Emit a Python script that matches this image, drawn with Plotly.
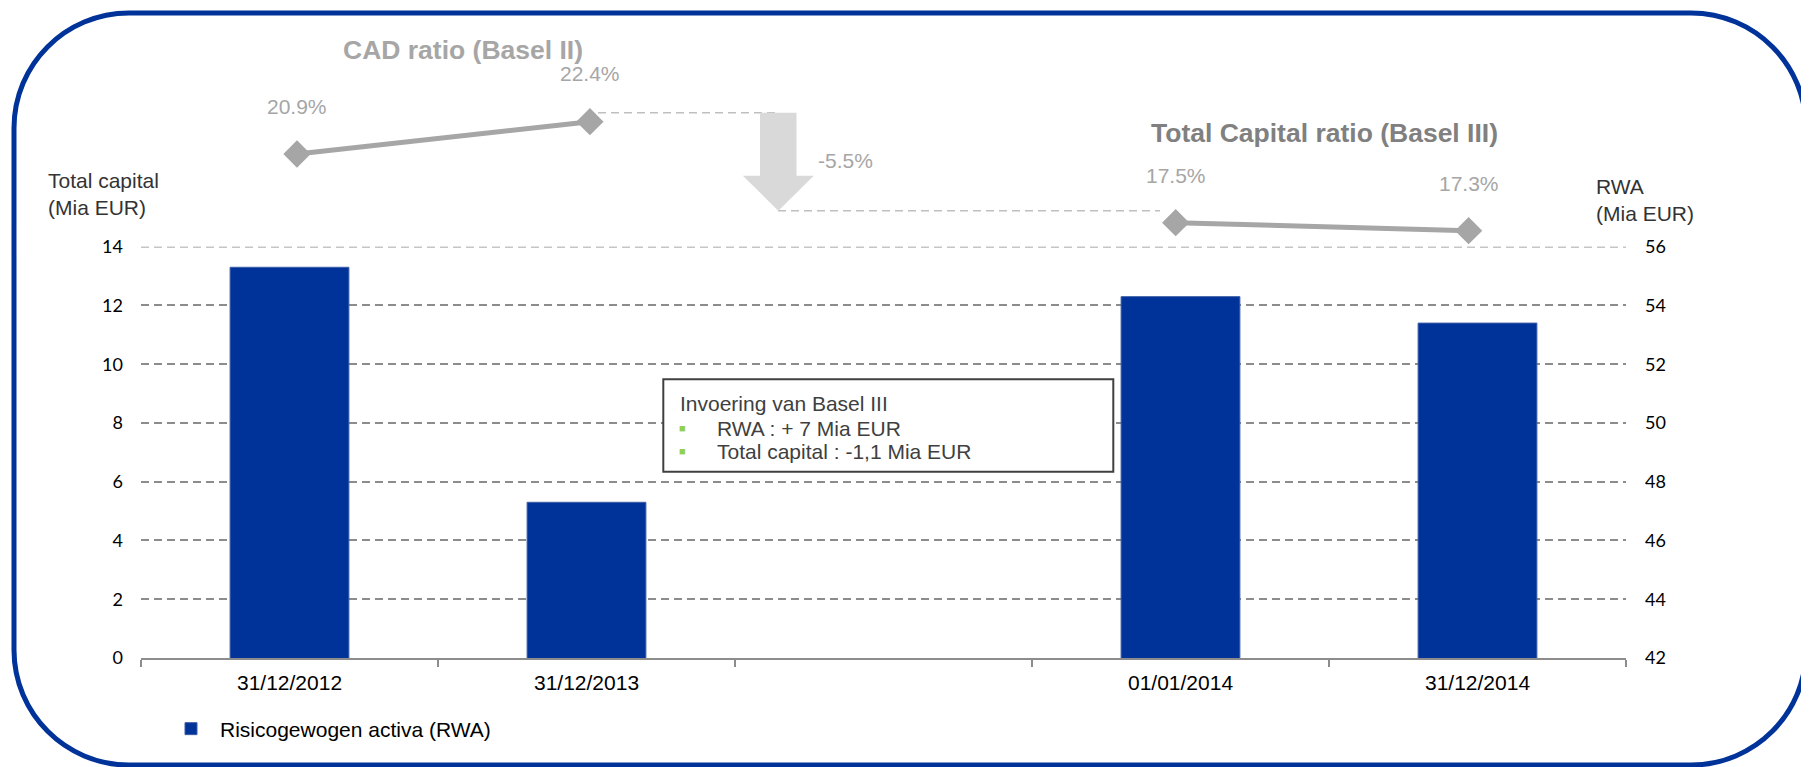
import plotly.graph_objects as go

# the page puts the figure 8px in from the top-left corner, so the figure margins are
# shifted by that; the helpers below work in screen pixels of the 1809x767 shot
W, H = 1809, 767
OFF = 8
PL, PR, PT, PB = 141, 1626, 20, 658            # plot box on screen
PW, PH = PR - PL, PB - PT


def px(x):
    return (x - PL) / PW


def py(y):
    return (PB - y) / PH


# data
dates = ['31/12/2012', '31/12/2013', ' ', '01/01/2014', '31/12/2014']
rwa_dates = ['31/12/2012', '31/12/2013', '01/01/2014', '31/12/2014']
rwa = [55.3, 47.3, 54.3, 53.4]                 # Mia EUR, right axis
cad_dates = ['31/12/2012', '31/12/2013']
cad_ratio = [20.9, 22.4]                       # Basel II
tcr_dates = ['01/01/2014', '31/12/2014']
tcr_ratio = [17.5, 17.3]                       # Basel III
capital_ticks = [0, 2, 4, 6, 8, 10, 12, 14]
rwa_ticks = [42, 44, 46, 48, 50, 52, 54, 56]

BLUE = '#003399'
GREY = '#A6A6A6'
GRID = '#8C8C8C'
FONT = 'Liberation Sans, Arial, sans-serif'

fig = go.Figure()

# empty trace so the left (Total capital) axis gets its own subplot
fig.add_trace(go.Scatter(x=[], y=[], xaxis='x', yaxis='y', showlegend=False, hoverinfo='skip'))

fig.add_trace(go.Bar(x=rwa_dates, y=rwa, xaxis='x', yaxis='y2', name='Risicogewogen activa (RWA)',
                     marker=dict(color=BLUE, line=dict(color='#3d5fa8', width=1)),
                     width=0.4, hoverinfo='x+y'))

# ratio lines sit on their own small axes above the bars
fig.add_trace(go.Scatter(x=cad_dates, y=cad_ratio, xaxis='x2', yaxis='y3', mode='lines+markers',
                         line=dict(color=GREY, width=5),
                         marker=dict(symbol='diamond', size=21, color=GREY),
                         cliponaxis=False, showlegend=False))
fig.add_trace(go.Scatter(x=tcr_dates, y=tcr_ratio, xaxis='x2', yaxis='y4', mode='lines+markers',
                         line=dict(color=GREY, width=5),
                         marker=dict(symbol='diamond', size=21, color=GREY),
                         cliponaxis=False, showlegend=False))

dom = py(246.7)

annotations = []
for d, v in zip(cad_dates, cad_ratio):
    annotations.append(dict(x=d, y=v, xref='x2', yref='y3', text=f'{v:.1f}%', showarrow=False,
                            yshift=48, font=dict(size=21, color=GREY)))
for d, v in zip(tcr_dates, tcr_ratio):
    annotations.append(dict(x=d, y=v, xref='x2', yref='y4', text=f'{v:.1f}%', showarrow=False,
                            yshift=47, font=dict(size=21, color=GREY)))

texts = [
    # (x, y, text, size, colour, xanchor, bold)
    (463, 50, 'CAD ratio (Basel II)', 26.5, GREY, 'center', True),
    (1324, 133, 'Total Capital ratio (Basel III)', 26.5, '#808080', 'center', True),
    (816, 160, '-5.5%', 21, GREY, 'left', False),
    (46, 194, 'Total capital<br>(Mia EUR)', 21, '#333333', 'left', False),
    (1594, 200, 'RWA<br>(Mia EUR)', 21, '#333333', 'left', False),
    (678, 403, 'Invoering van Basel III', 21, '#404040', 'left', False),
    (715, 428, 'RWA : + 7 Mia EUR', 21, '#404040', 'left', False),
    (715, 451, 'Total capital : -1,1 Mia EUR', 21, '#404040', 'left', False),
]
for x, y, t, s, c, xa, b in texts:
    annotations.append(dict(x=px(x), y=py(y), xref='paper', yref='paper', text=f'<b>{t}</b>' if b else t,
                            showarrow=False, xanchor=xa, yanchor='middle', align='left',
                            font=dict(size=s, color=c)))
for y in (428, 451):
    annotations.append(dict(x=px(682), y=py(y), xref='paper', yref='paper', text='■', showarrow=False,
                            xanchor='center', yanchor='middle', font=dict(size=11, color='#92D050')))


def path(points):
    return 'M ' + ' L '.join(f'{px(x)},{py(y)}' for x, y in points) + ' Z'


# rounded frame
x0, y0, x1, y1, r = 14, 13, 1806, 765, 115
k = 0.5523 * r
frame = (f'M {px(x0 + r)},{py(y0)} L {px(x1 - r)},{py(y0)} '
         f'C {px(x1 - r + k)},{py(y0)} {px(x1)},{py(y0 + r - k)} {px(x1)},{py(y0 + r)} '
         f'L {px(x1)},{py(y1 - r)} '
         f'C {px(x1)},{py(y1 - r + k)} {px(x1 - r + k)},{py(y1)} {px(x1 - r)},{py(y1)} '
         f'L {px(x0 + r)},{py(y1)} '
         f'C {px(x0 + r - k)},{py(y1)} {px(x0)},{py(y1 - r + k)} {px(x0)},{py(y1 - r)} '
         f'L {px(x0)},{py(y0 + r)} '
         f'C {px(x0)},{py(y0 + r - k)} {px(x0 + r - k)},{py(y0)} {px(x0 + r)},{py(y0)} Z')

shapes = [
    # top gridline (plotly drops the one sitting on the range edge)
    dict(type='line', xref='paper', yref='y', x0=0, x1=1, y0=capital_ticks[-1], y1=capital_ticks[-1],
         line=dict(color=GRID, width=1.5, dash='8px,5px'), layer='below'),
    dict(type='line', xref='paper', yref='paper', x0=px(598), x1=px(778), y0=py(112.7), y1=py(112.7),
         line=dict(color='#BFBFBF', width=1.5, dash='8px,5px')),
    dict(type='line', xref='paper', yref='paper', x0=px(778), x1=px(1160), y0=py(210.7), y1=py(210.7),
         line=dict(color='#BFBFBF', width=1.5, dash='8px,5px')),
    dict(type='path', xref='paper', yref='paper', fillcolor='#D9D9D9', line=dict(width=0),
         path=path([(760, 112.7), (796.5, 112.7), (796.5, 175.7), (813.8, 175.7),
                    (778.3, 210.7), (742.8, 175.7), (760, 175.7)])),
    dict(type='rect', xref='paper', yref='paper', x0=px(663.3), x1=px(1113.3), y0=py(471.7), y1=py(379.3),
         fillcolor='white', line=dict(color='#404040', width=2), layer='above'),
    dict(type='path', xref='paper', yref='paper', path=frame, line=dict(color=BLUE, width=5)),
]

fig.update_layout(
    width=W, height=H,
    margin=dict(l=PL - OFF, r=W - (PR - OFF), t=PT - OFF, b=H - (PB - OFF), autoexpand=False),
    paper_bgcolor='white', plot_bgcolor='white',
    font=dict(family=FONT, size=21, color='#000000'),
    showlegend=True,
    legend=dict(orientation='h', x=px(162), y=py(729), xanchor='left', yanchor='middle',
                itemwidth=48, font=dict(size=21, color='#000000'), bgcolor='rgba(0,0,0,0)'),
    xaxis=dict(type='category', categoryorder='array', categoryarray=dates, range=[-0.5, 4.5],
               domain=[0, 1], anchor='y', showline=True, linecolor=GRID, linewidth=2,
               ticks='outside', tickson='boundaries', ticklen=7, tickcolor=GRID, tickwidth=1.5,
               tickfont=dict(size=21), ticklabelstandoff=5, showgrid=False, zeroline=False,
               automargin=False, fixedrange=True),
    yaxis=dict(range=[0, 14], tickvals=capital_ticks, domain=[0, dom], anchor='x', showgrid=True,
               gridcolor=GRID, griddash='8px,5px', gridwidth=1.5, zeroline=False,
               showline=False, ticks='', ticklabelstandoff=17, automargin=False,
               tickfont=dict(family='Lato', size=18), fixedrange=True),
    yaxis2=dict(range=[42, 56], tickvals=rwa_ticks, overlaying='y', side='right', anchor='x',
                showgrid=False, zeroline=False, showline=False, ticks='', ticklabelstandoff=18,
                automargin=False, tickfont=dict(family='Lato', size=18), fixedrange=True),
    xaxis2=dict(type='category', categoryorder='array', categoryarray=dates,
                range=[-0.5326, 4.5374], domain=[0, 1], anchor='y3', visible=False, fixedrange=True),
    yaxis3=dict(range=[16.595, 27.124], domain=[dom, 1], anchor='x2', visible=False, fixedrange=True),
    yaxis4=dict(range=[16.9, 22.57], overlaying='y3', anchor='x2', visible=False, fixedrange=True),
    annotations=annotations,
    shapes=shapes,
)

fig.write_html("out.html")
